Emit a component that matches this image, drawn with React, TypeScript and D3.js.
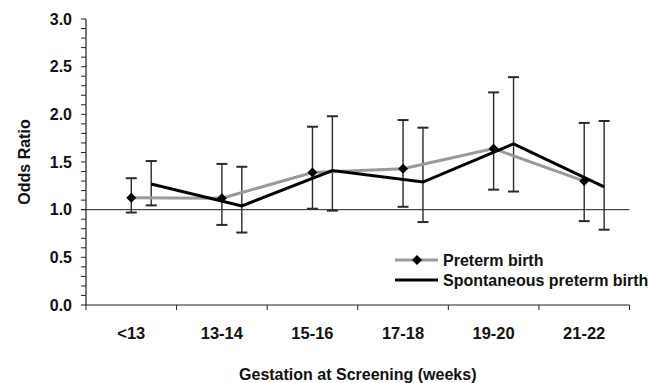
import React from 'react'
import * as d3 from 'd3'

// odds ratios with 95% CI
const categories = ['<13', '13-14', '15-16', '17-18', '19-20', '21-22']
const pretermOR = [1.125, 1.12, 1.39, 1.43, 1.64, 1.3]
const pretermLow = [0.97, 0.84, 1.01, 1.03, 1.21, 0.88]
const pretermHigh = [1.33, 1.48, 1.87, 1.94, 2.23, 1.91]
const spontOR = [1.27, 1.04, 1.41, 1.29, 1.69, 1.24]
const spontLow = [1.045, 0.76, 0.99, 0.87, 1.19, 0.79]
const spontHigh = [1.51, 1.45, 1.98, 1.86, 2.39, 1.93]
const yMajor = [0, 0.5, 1, 1.5, 2, 2.5, 3]

const W = 649
const H = 383
const FONT = "Arial, 'Liberation Sans', sans-serif"
const GRAY = '#999999'
const AXIS = '#222'

const x = d3.scaleBand<string>().domain(categories).range([86, 629.5]).padding(0)
const y = d3.scaleLinear().domain([0, 3]).range([305, 19])
const minorTicks = d3.range(0, 31).map(i => i / 10)

const centre = (c: string) => (x(c) ?? 0) + x.bandwidth() / 2
const pretermX = (i: number) => centre(categories[i])
const spontX = (i: number) => centre(categories[i]) + x.bandwidth() * 0.22

const line = d3.line<[number, number]>().x(d => d[0]).y(d => d[1])

function diamond(cx: number, cy: number, r = 5) {
  return `M${cx},${cy - r}L${cx + r},${cy}L${cx},${cy + r}L${cx - r},${cy}Z`
}

function ErrorBar({ cx, lo, hi }: { cx: number; lo: number; hi: number }) {
  const cap = 5.5
  return (
    <g stroke="#2a2a2a">
      <line x1={cx} x2={cx} y1={y(lo)} y2={y(hi)} strokeWidth={1.4} />
      <line x1={cx - cap} x2={cx + cap} y1={y(hi)} y2={y(hi)} strokeWidth={2} />
      <line x1={cx - cap} x2={cx + cap} y1={y(lo)} y2={y(lo)} strokeWidth={2} />
    </g>
  )
}

export default function App() {
  const pretermPts = pretermOR.map((v, i) => [pretermX(i), y(v)] as [number, number])
  const spontPts = spontOR.map((v, i) => [spontX(i), y(v)] as [number, number])
  const [x0, x1] = x.range()

  return (
    <svg width={W} height={H} style={{ position: 'absolute', left: 0, top: 0, background: '#fff' }}
      fontFamily={FONT}>
      <rect width={W} height={H} fill="#fff" />

      {/* y axis */}
      <line x1={x0} x2={x0} y1={y(0)} y2={y(3)} stroke={AXIS} strokeWidth={1.2} />
      {minorTicks.map(t => (
        <line key={t} x1={x0 - 5} x2={x0} y1={y(t)} y2={y(t)} stroke={AXIS} strokeWidth={1} />
      ))}
      {yMajor.map(t => (
        <text key={t} x={72} y={y(t) + 5.8} textAnchor="end" fontSize={16} fontWeight="bold" fill="#111">
          {t.toFixed(1)}
        </text>
      ))}
      <text transform={`translate(30,${(y(0) + y(3)) / 2}) rotate(-90)`} textAnchor="middle"
        fontSize={16} fontWeight="bold" fill="#111">Odds Ratio</text>

      {/* x axis */}
      <line x1={x0} x2={x1} y1={y(0)} y2={y(0)} stroke={AXIS} strokeWidth={1.2} />
      {[...categories.map(c => x(c) ?? 0), x1].map((t, i) => (
        <line key={i} x1={t} x2={t} y1={y(0)} y2={y(0) + 5} stroke={AXIS} strokeWidth={1} />
      ))}
      {categories.map(c => (
        <text key={c} x={centre(c)} y={338.5} textAnchor="middle" fontSize={16.5} fontWeight="bold" fill="#111">
          {c}
        </text>
      ))}
      <text x={(x0 + x1) / 2} y={379.5} textAnchor="middle" fontSize={16} fontWeight="bold" fill="#111">
        Gestation at Screening (weeks)
      </text>

      {/* reference line at OR = 1 */}
      <line x1={x0 - 5} x2={x1} y1={y(1)} y2={y(1)} stroke={AXIS} strokeWidth={1} />

      {/* confidence intervals */}
      {categories.map((c, i) => (
        <g key={c}>
          <ErrorBar cx={pretermX(i)} lo={pretermLow[i]} hi={pretermHigh[i]} />
          <ErrorBar cx={spontX(i)} lo={spontLow[i]} hi={spontHigh[i]} />
        </g>
      ))}

      {/* series */}
      <path d={line(pretermPts) ?? ''} fill="none" stroke={GRAY} strokeWidth={3} />
      <path d={line(spontPts) ?? ''} fill="none" stroke="#000" strokeWidth={3} />
      {pretermPts.map((p, i) => (
        <path key={i} d={diamond(p[0], p[1])} fill="#000" />
      ))}

      {/* legend */}
      <line x1={395} x2={438} y1={260} y2={260} stroke={GRAY} strokeWidth={3} />
      <path d={diamond(417, 260)} fill="#000" />
      <text x={443} y={265.8} fontSize={16} fontWeight="bold" fill="#111">Preterm birth</text>
      <line x1={395} x2={438} y1={280} y2={280} stroke="#000" strokeWidth={3} />
      <text x={443} y={285.8} fontSize={16} fontWeight="bold" fill="#111">Spontaneous preterm birth</text>
    </svg>
  )
}
